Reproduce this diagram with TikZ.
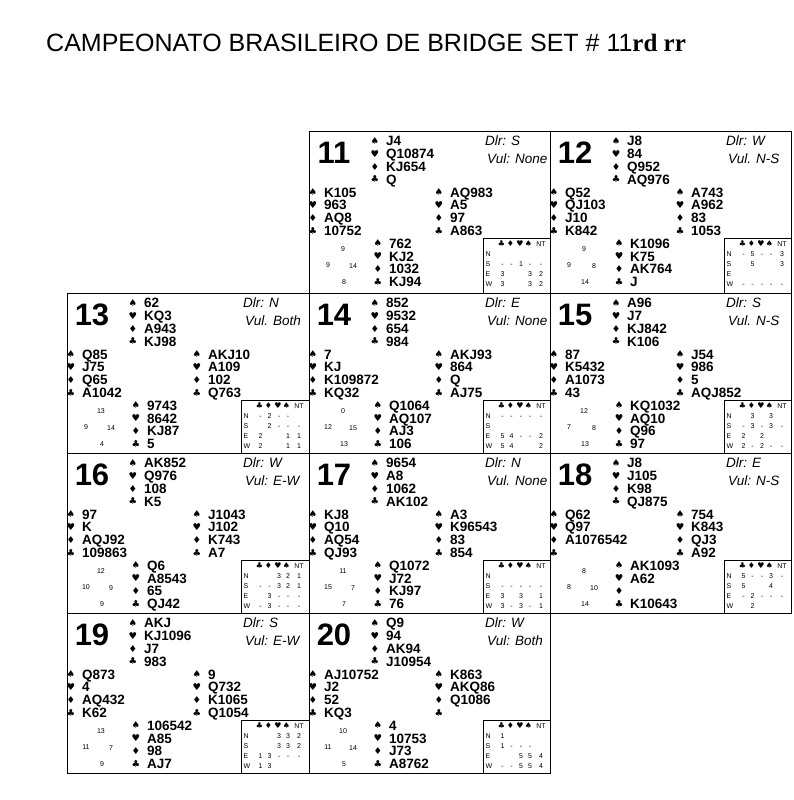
\documentclass[tikz,border=0pt]{standalone}
\usepackage{fontspec}
\setmainfont{Liberation Sans}
\newfontfamily\symf{DejaVu Sans}
\newfontfamily\serf{Liberation Serif}
\tikzset{
  hnd/.style={anchor=base west, inner sep=0pt, font=\fontsize{13.5}{13.5}\selectfont\bfseries},
  sym/.style={inner sep=0pt, font=\fontsize{9.5}{9.5}\selectfont\symf},
  bnum/.style={inner sep=0pt, font=\fontsize{31}{31}\selectfont\bfseries},
  info/.style={anchor=west, inner sep=0pt, font=\fontsize{13.5}{13.5}\selectfont\itshape},
  hcpf/.style={inner sep=0pt, font=\fontsize{7}{7}\selectfont},
  tabtxt/.style={inner sep=0pt, font=\fontsize{7}{7}\selectfont},
  tabsym/.style={anchor=base, inner sep=0pt, font=\fontsize{8}{8}\selectfont\symf},
  bframe/.style={draw, line width=0.8pt, inner sep=0pt, outer sep=0pt},
}
\newcommand\bd[5]{%
  \node[bframe, minimum width=#4pt, minimum height=#5pt, anchor=north west] (b#1box) at (0,0) {};
  \node[bframe, minimum width={#4pt-174pt}, minimum height={#5pt-107pt}, anchor=north west] (b#1tab) at (174,107) {};
  \node[bnum] (b#1num) at (25,22) {#1};
  \node[info] (b#1dlr) at (176,9.5) {Dlr: #2};
  \node[info] (b#1vul) at (178,27.5) {Vul#3};
  \node[tabsym] (b#1hc) at (192.5,115) {♣};
  \node[tabsym] (b#1hd) at (201.5,115) {♦};
  \node[tabsym] (b#1hh) at (211,115) {♥};
  \node[tabsym] (b#1hs) at (219.5,115) {♠};
  \node[tabtxt, anchor=base] (b#1hnt) at (232,115) {NT};
}
\newcommand\hand[7]{%
  \node[sym] (#1a) at (#2,#3) {♠}; \node[hnd] (#1A) at (#2+11,#3+4.8) {#4};
  \node[sym] (#1b) at (#2,#3+12.8) {♥}; \node[hnd] (#1B) at (#2+11,#3+17.6) {#5};
  \node[sym] (#1c) at (#2,#3+25.6) {♦}; \node[hnd] (#1C) at (#2+11,#3+30.4) {#6};
  \node[sym] (#1d) at (#2,#3+38.4) {♣}; \node[hnd] (#1D) at (#2+11,#3+43.2) {#7};
}
\newcommand\hcp[5]{%
  \node[hcpf] (#1pn) at (34,118) {#2};
  \node[hcpf] (#1pw) at (19,134) {#3};
  \node[hcpf] (#1pe) at (44,135) {#4};
  \node[hcpf] (#1ps) at (35,151) {#5};
}
\newcommand\trow[8]{%
  \node[tabtxt, anchor=base west] (#1l) at (176.5,#2) {#3};
  \node[tabtxt, anchor=base] (#1c) at (193.5,#2) {#4};
  \node[tabtxt, anchor=base] (#1d) at (202.5,#2) {#5};
  \node[tabtxt, anchor=base] (#1h) at (212,#2) {#6};
  \node[tabtxt, anchor=base] (#1s) at (221,#2) {#7};
  \node[tabtxt, anchor=base] (#1t) at (232,#2) {#8};
}
\begin{document}
\begin{tikzpicture}[x=1pt,y=-1pt]
\useasboundingbox (0,0) rectangle (793,800);
\node[anchor=base west, inner sep=0pt] (title) at (46,52)
  {\fontsize{25}{25}\selectfont CAMPEONATO BRASILEIRO DE BRIDGE SET \# 11{\serf\bfseries rd rr}};
% ---------- 11
\begin{scope}[shift={(309,131)}]
 \bd{11}{S}{: None}{241}{162}
 \hand{b11n}{66}{10}{J4}{Q10874}{KJ654}{Q}
 \hand{b11w}{4}{61.2}{K105}{963}{AQ8}{10752}
 \hand{b11e}{130}{61.2}{AQ983}{A5}{97}{A863}
 \hand{b11s}{69}{112.4}{762}{KJ2}{1032}{KJ94}
 \hcp{b11}{9}{9}{14}{8}
 \trow{b11N}{125}{N}{}{}{}{}{}
 \trow{b11S}{135}{S}{-}{-}{1}{-}{-}
 \trow{b11E}{145}{E}{3}{}{}{3}{2}
 \trow{b11W}{155}{W}{3}{}{}{3}{2}
\end{scope}
% ---------- 12
\begin{scope}[shift={(550,131)}]
 \bd{12}{W}{. N-S}{241}{162}
 \hand{b12n}{66}{10}{J8}{84}{Q952}{AQ976}
 \hand{b12w}{4}{61.2}{Q52}{QJ103}{J10}{K842}
 \hand{b12e}{130}{61.2}{A743}{A962}{83}{1053}
 \hand{b12s}{69}{112.4}{K1096}{K75}{AK764}{J}
 \hcp{b12}{9}{9}{8}{14}
 \trow{b12N}{125}{N}{-}{5}{-}{-}{3}
 \trow{b12S}{135}{S}{}{5}{}{}{3}
 \trow{b12E}{145}{E}{}{}{}{}{}
 \trow{b12W}{155}{W}{-}{-}{-}{-}{-}
\end{scope}
% ---------- 13
\begin{scope}[shift={(67,293)}]
 \bd{13}{N}{. Both}{242}{160}
 \hand{b13n}{66}{10}{62}{KQ3}{A943}{KJ98}
 \hand{b13w}{4}{61.2}{Q85}{J75}{Q65}{A1042}
 \hand{b13e}{130}{61.2}{AKJ10}{A109}{102}{Q763}
 \hand{b13s}{69}{112.4}{9743}{8642}{KJ87}{5}
 \hcp{b13}{13}{9}{14}{4}
 \trow{b13N}{125}{N}{-}{2}{-}{-}{}
 \trow{b13S}{135}{S}{}{2}{-}{-}{-}
 \trow{b13E}{145}{E}{2}{}{}{1}{1}
 \trow{b13W}{155}{W}{2}{}{}{1}{1}
\end{scope}
% ---------- 14
\begin{scope}[shift={(309,293)}]
 \bd{14}{E}{: None}{241}{160}
 \hand{b14n}{66}{10}{852}{9532}{654}{984}
 \hand{b14w}{4}{61.2}{7}{KJ}{K109872}{KQ32}
 \hand{b14e}{130}{61.2}{AKJ93}{864}{Q}{AJ75}
 \hand{b14s}{69}{112.4}{Q1064}{AQ107}{AJ3}{106}
 \hcp{b14}{0}{12}{15}{13}
 \trow{b14N}{125}{N}{-}{-}{-}{-}{-}
 \trow{b14S}{135}{S}{}{}{}{}{}
 \trow{b14E}{145}{E}{5}{4}{-}{-}{2}
 \trow{b14W}{155}{W}{5}{4}{}{}{2}
\end{scope}
% ---------- 15
\begin{scope}[shift={(550,293)}]
 \bd{15}{S}{. N-S}{241}{160}
 \hand{b15n}{66}{10}{A96}{J7}{KJ842}{K106}
 \hand{b15w}{4}{61.2}{87}{K5432}{A1073}{43}
 \hand{b15e}{130}{61.2}{J54}{986}{5}{AQJ852}
 \hand{b15s}{69}{112.4}{KQ1032}{AQ10}{Q96}{97}
 \hcp{b15}{12}{7}{8}{13}
 \trow{b15N}{125}{N}{}{3}{}{3}{}
 \trow{b15S}{135}{S}{-}{3}{-}{3}{-}
 \trow{b15E}{145}{E}{2}{}{2}{}{}
 \trow{b15W}{155}{W}{2}{-}{2}{-}{-}
\end{scope}
% ---------- 16
\begin{scope}[shift={(67,453)}]
 \bd{16}{W}{: E-W}{242}{160}
 \hand{b16n}{66}{10}{AK852}{Q976}{108}{K5}
 \hand{b16w}{4}{61.2}{97}{K}{AQJ92}{109863}
 \hand{b16e}{130}{61.2}{J1043}{J102}{K743}{A7}
 \hand{b16s}{69}{112.4}{Q6}{A8543}{65}{QJ42}
 \hcp{b16}{12}{10}{9}{9}
 \trow{b16N}{125}{N}{}{}{3}{2}{1}
 \trow{b16S}{135}{S}{-}{-}{3}{2}{1}
 \trow{b16E}{145}{E}{}{3}{-}{-}{-}
 \trow{b16W}{155}{W}{-}{3}{-}{-}{-}
\end{scope}
% ---------- 17
\begin{scope}[shift={(309,453)}]
 \bd{17}{N}{. None}{241}{160}
 \hand{b17n}{66}{10}{9654}{A8}{1062}{AK102}
 \hand{b17w}{4}{61.2}{KJ8}{Q10}{AQ54}{QJ93}
 \hand{b17e}{130}{61.2}{A3}{K96543}{83}{854}
 \hand{b17s}{69}{112.4}{Q1072}{J72}{KJ97}{76}
 \hcp{b17}{11}{15}{7}{7}
 \trow{b17N}{125}{N}{}{}{}{}{}
 \trow{b17S}{135}{S}{-}{-}{-}{-}{-}
 \trow{b17E}{145}{E}{3}{}{3}{}{1}
 \trow{b17W}{155}{W}{3}{-}{3}{-}{1}
\end{scope}
% ---------- 18
\begin{scope}[shift={(550,453)}]
 \bd{18}{E}{: N-S}{241}{160}
 \hand{b18n}{66}{10}{J8}{J105}{K98}{QJ875}
 \hand{b18w}{4}{61.2}{Q62}{Q97}{A1076542}{}
 \hand{b18e}{130}{61.2}{754}{K843}{QJ3}{A92}
 \hand{b18s}{69}{112.4}{AK1093}{A62}{}{K10643}
 \hcp{b18}{8}{8}{10}{14}
 \trow{b18N}{125}{N}{5}{-}{-}{3}{-}
 \trow{b18S}{135}{S}{5}{}{}{4}{}
 \trow{b18E}{145}{E}{-}{2}{-}{-}{-}
 \trow{b18W}{155}{W}{}{2}{}{}{}
\end{scope}
% ---------- 19
\begin{scope}[shift={(67,613)}]
 \bd{19}{S}{: E-W}{242}{160}
 \hand{b19n}{66}{10}{AKJ}{KJ1096}{J7}{983}
 \hand{b19w}{4}{61.2}{Q873}{4}{AQ432}{K62}
 \hand{b19e}{130}{61.2}{9}{Q732}{K1065}{Q1054}
 \hand{b19s}{69}{112.4}{106542}{A85}{98}{AJ7}
 \hcp{b19}{13}{11}{7}{9}
 \trow{b19N}{125}{N}{}{}{3}{3}{2}
 \trow{b19S}{135}{S}{}{}{3}{3}{2}
 \trow{b19E}{145}{E}{1}{3}{-}{-}{-}
 \trow{b19W}{155}{W}{1}{3}{}{}{}
\end{scope}
% ---------- 20
\begin{scope}[shift={(309,613)}]
 \bd{20}{W}{: Both}{241}{160}
 \hand{b20n}{66}{10}{Q9}{94}{AK94}{J10954}
 \hand{b20w}{4}{61.2}{AJ10752}{J2}{52}{KQ3}
 \hand{b20e}{130}{61.2}{K863}{AKQ86}{Q1086}{}
 \hand{b20s}{69}{112.4}{4}{10753}{J73}{A8762}
 \hcp{b20}{10}{11}{14}{5}
 \trow{b20N}{125}{N}{1}{}{}{}{}
 \trow{b20S}{135}{S}{1}{-}{-}{-}{}
 \trow{b20E}{145}{E}{}{}{5}{5}{4}
 \trow{b20W}{155}{W}{-}{-}{5}{5}{4}
\end{scope}
\end{tikzpicture}
\end{document}
